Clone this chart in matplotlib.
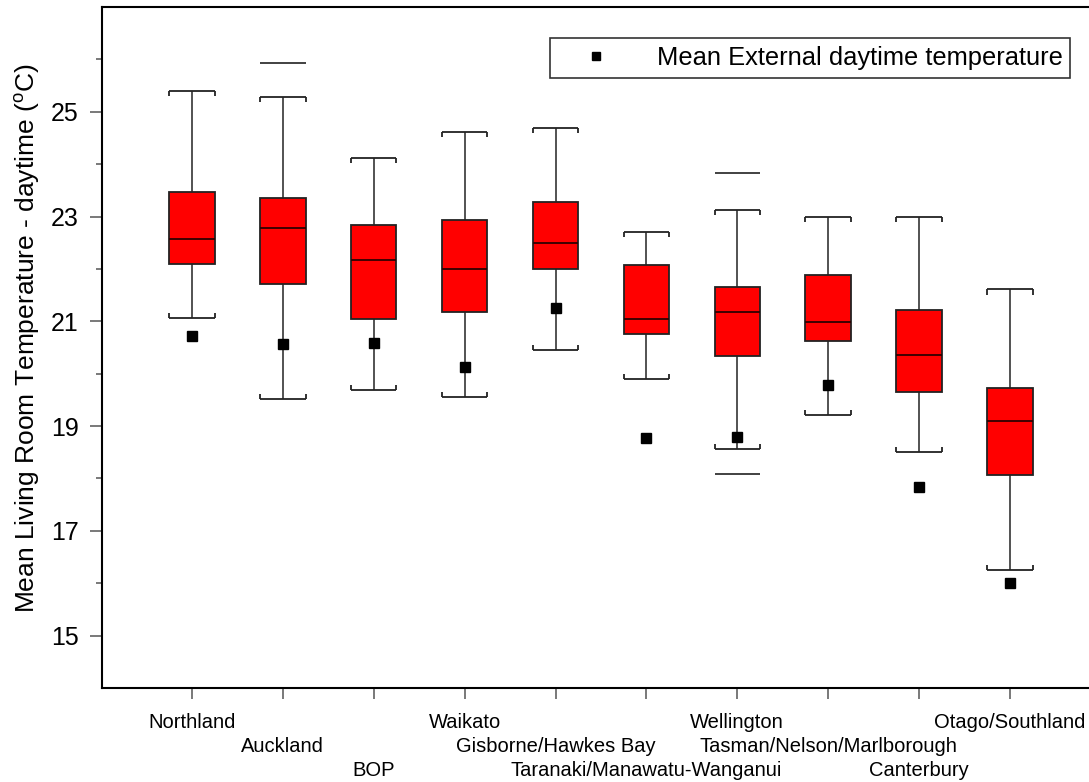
import numpy as np
import matplotlib
matplotlib.use('Agg')
import matplotlib.pyplot as plt

plt.rcParams['font.family'] = ['Liberation Sans', 'DejaVu Sans']
plt.rcParams['mathtext.fontset'] = 'custom'
plt.rcParams['mathtext.rm'] = 'Liberation Sans'

# regions (x axis), label row used for the staggered tick labels
regions = ['Northland', 'Auckland', 'BOP', 'Waikato', 'Gisborne/Hawkes Bay',
           'Taranaki/Manawatu-Wanganui', 'Wellington', 'Tasman/Nelson/Marlborough',
           'Canterbury', 'Otago/Southland']
label_row = [0, 1, 2, 0, 1, 2, 0, 1, 2, 0]

# living room temperature box stats (deg C)
whis_hi = [25.40, 25.28, 24.12, 24.61, 24.69, 22.70, 23.12, 23.00, 23.00, 21.61]
q3      = [23.47, 23.35, 22.84, 22.94, 23.28, 22.08, 21.65, 21.89, 21.21, 19.72]
median  = [22.58, 22.78, 22.17, 22.00, 22.49, 21.04, 21.17, 20.99, 20.35, 19.10]
q1      = [22.10, 21.72, 21.05, 21.18, 22.00, 20.75, 20.34, 20.63, 19.66, 18.07]
whis_lo = [21.06, 19.52, 19.68, 19.56, 20.45, 19.90, 18.56, 19.21, 18.51, 16.25]

# extra percentile lines
extra_idx = [1, 6, 6]
extra_val = [25.94, 23.84, 18.09]

# mean external daytime temperature
ext_mean = [20.72, 20.57, 20.59, 20.13, 21.25, 18.77, 18.79, 19.79, 17.83, 16.00]

pos = np.arange(1, len(regions) + 1)
w = 0.5
serif = 0.1

fig = plt.figure(figsize=(10.89, 7.82), dpi=100)
ax = fig.add_axes([102 / 1089, 94 / 782, 987 / 1089, 681 / 782])

ax.vlines(pos, whis_lo, whis_hi, color='#444444', lw=1.3, zorder=1)
ax.bar(pos, np.array(q3) - np.array(q1), bottom=q1, width=w, color='#ff0000',
       edgecolor='#222222', lw=1.3, zorder=2)
ax.hlines(median, pos - w / 2, pos + w / 2, color='#300000', lw=1.3, zorder=3)

# caps with small end ticks
ax.hlines(whis_hi, pos - w / 2, pos + w / 2, color='#222222', lw=1.3, zorder=3)
ax.hlines(whis_lo, pos - w / 2, pos + w / 2, color='#222222', lw=1.3, zorder=3)
for side in (-1, 1):
    ax.vlines(pos + side * w / 2, np.array(whis_hi) - serif, whis_hi, color='#222222', lw=1.3)
    ax.vlines(pos + side * w / 2, whis_lo, np.array(whis_lo) + serif, color='#222222', lw=1.3)

ex_pos = pos[extra_idx]
ax.hlines(extra_val, ex_pos - w / 2, ex_pos + w / 2, color='#333333', lw=1.3)

ax.plot(pos, ext_mean, 's', color='black', ms=7, ls='none', zorder=5,
        label='Mean External daytime temperature')

ax.set_xlim(0.01, 10.87)
ax.set_ylim(14, 27)
ax.set_yticks([15, 17, 19, 21, 23, 25])
ax.set_yticks(np.arange(16, 27, 2), minor=True)
ax.set_xticks(pos)
ax.set_xticklabels([])

# staggered region labels, three rows
for p, name, r in zip(pos, regions, label_row):
    ax.annotate(name, xy=(p, 0), xycoords=('data', 'axes fraction'),
                xytext=(0, -24.5 - 17.3 * r), textcoords='offset points',
                ha='center', va='center', fontsize=14.5, annotation_clip=False)

ax.tick_params(axis='y', which='major', length=8.6, width=1.1, color='#555555',
               labelsize=18, pad=8)
ax.tick_params(axis='y', which='minor', length=4.3, width=1.1, color='#555555')
ax.tick_params(axis='x', length=8, width=1.1, color='#555555')

for s in ('left', 'bottom', 'top'):
    ax.spines[s].set_linewidth(1.5)
ax.spines['right'].set_visible(False)

ax.set_ylabel(r'Mean Living Room Temperature - daytime ($^{\rm o}$C)', fontsize=19)
ax.yaxis.set_label_coords(-0.061, 0.513)

leg = ax.legend(loc='upper right', bbox_to_anchor=(0.981, 0.954), fontsize=18.4,
                frameon=True, fancybox=False, borderpad=0.3, handlelength=3.0,
                handletextpad=0.86, borderaxespad=0, markerscale=0.9)
leg.get_frame().set_edgecolor('black')
leg.get_frame().set_linewidth(1.2)

fig.savefig('out.png', dpi=100)
